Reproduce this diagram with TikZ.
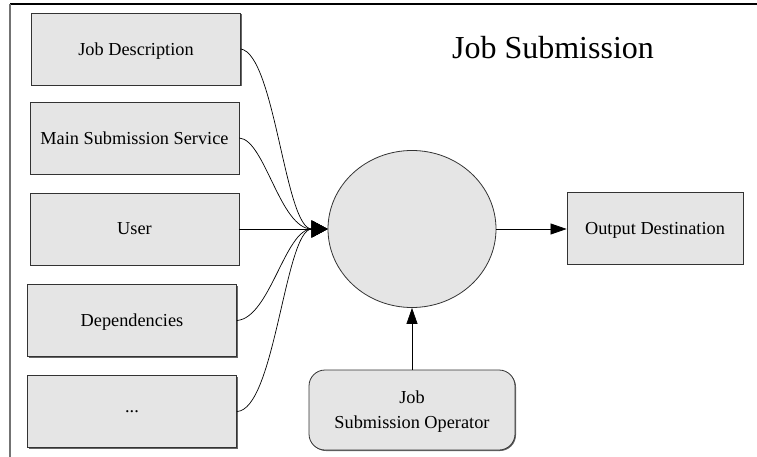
\documentclass[tikz,border=0pt]{standalone}
\usepackage{fontspec}
\setmainfont{Liberation Serif}
\usetikzlibrary{arrows.meta,shapes.geometric,shadows}

\begin{document}
\begin{tikzpicture}
[x=1pt, y=-1pt,
 box/.style={draw=black!80, fill=black!10, line width=0.8pt, minimum width=209pt, minimum height=72pt, text depth=0pt, font=\fontsize{18.3}{25}\selectfont, drop shadow={shadow xshift=1pt, shadow yshift=-1pt, fill=black!60, opacity=1}},
 link/.style={line width=0.7pt, -{Triangle[length=16pt, width=17pt]}},
 flow/.style={line width=0.7pt, -{Triangle[length=16pt, width=11pt]}}]
\useasboundingbox (0,0) rectangle (757,457);
% frame
\draw [line width=1.2pt] (10,4) -- (757,4);
\draw [black!55, line width=1.5pt] (10,4) -- (10,457);
% inputs on the left
\node [box] (desc) at (136,49) {Job Description};
\node [box] (main) at (134.5,138) {Main Submission Service};
\node [box] (user) at (134.5,229) {User};
\node [box] (dep) at (132,320.5) {Dependencies};
\node [box] (more) at (132,411.5) {...};
% process, output and operator
\node [ellipse, draw=black!80, fill=black!10, line width=0.8pt, minimum width=168pt, minimum height=157pt] (job) at (412,229) {};
\node [box, minimum width=176pt] (dest) at (655,228) {Output Destination};
\node [box, rounded corners=16pt, minimum width=206pt, minimum height=80pt, align=center] (oper) at (412,410) {Job\\Submission Operator};
\node [font=\fontsize{32}{38}\selectfont] (title) at (553,48) {Job Submission};
% connectors
\draw [link] (desc.east) .. controls (275,55) and (285,229) .. (job.west);
\draw [link] (main.east) .. controls (265,140) and (280,229) .. (job.west);
\draw [link] (user.east) -- (job.west);
\draw [link] (dep.east) .. controls (270,318) and (285,229) .. (job.west);
\draw [link] (more.east) .. controls (275,410) and (285,229) .. (job.west);
\draw [flow] (job.east) -- (job.east -| dest.west);
\draw [flow] (oper.north) -- (job.south);
\end{tikzpicture}
\end{document}
